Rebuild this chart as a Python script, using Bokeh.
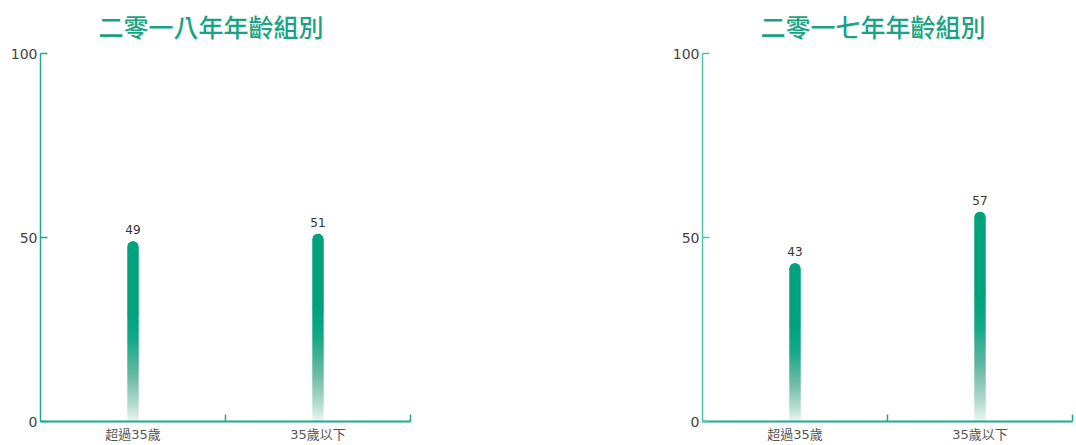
import numpy as np
from bokeh.plotting import figure
from bokeh.layouts import row
from bokeh.models import FixedTicker, Range1d, Spacer
from bokeh.core.properties import value
from bokeh.embed import file_html
from bokeh.resources import INLINE

# Data
categories = ["超過35歲", "35歲以下"]
values_2018 = [49, 51]
values_2017 = [43, 57]
title_2018 = "二零一八年年齡組別"
title_2017 = "二零一七年年齡組別"
y_ticks = [0, 50, 100]

TEAL = "#00A27E"
AXIS = "#1DAA8B"
LABEL_FONT = "'DejaVu Sans', 'Noto Sans CJK TC', sans-serif"
TITLE_FONT = "'Noto Sans CJK TC Medium', 'Noto Sans CJK TC', sans-serif"
# vertical gradient stops: (fraction from top of bar, rgb)
GRAD = [(0.0, (0, 162, 126)), (0.4, (0, 162, 126)), (0.55, (22, 168, 136)),
        (0.75, (108, 186, 164)), (0.9, (178, 218, 206)), (1.0, (238, 247, 244))]
SOLID = 0.4      # top share of each bar drawn in solid colour
FRAME_W = 370    # plot frame size in pixels
FRAME_H = 368
BAR_W = 11 / (FRAME_W / 2)   # 11 px wide bars, in category units
ROW = 100 / FRAME_H          # one pixel row, in value units


def grad_color(t):
    for (t0, c0), (t1, c1) in zip(GRAD[:-1], GRAD[1:]):
        if t0 <= t <= t1:
            f = 0 if t1 == t0 else (t - t0) / (t1 - t0)
            r, g, b = (int(round(a + (bb - a) * f)) for a, bb in zip(c0, c1))
            return "#%02x%02x%02x" % (r, g, b)
    return "#%02x%02x%02x" % GRAD[-1][1]


def make_chart(title, vals, border_right, yaxis_color):
    n = len(categories)
    p = figure(width=40 + FRAME_W + border_right, height=53 + FRAME_H + 24,
               x_range=Range1d(0, n), y_range=Range1d(0, 100),
               output_backend="svg", toolbar_location=None,
               min_border_left=40, min_border_right=border_right,
               min_border_top=53, min_border_bottom=24)
    p.outline_line_color = None
    p.grid.visible = False
    p.background_fill_color = "white"
    p.border_fill_color = "white"

    xs = [i + 0.5 for i in range(n)]
    lowers = [v * (1 - SOLID) for v in vals]

    # solid upper part of each bar with a rounded top (two passes, so its
    # edges have the same density as the overlapping slices below)
    for _ in range(2):
        p.vbar(x=xs, bottom=lowers, top=vals, width=BAR_W,
               fill_color=TEAL, line_color=None, border_radius=(6, 6, 0, 0))

    # fading lower part: one slice per pixel row, each overlapping the next
    sx, sb, st, sc = [], [], [], []
    for x, v, lower in zip(xs, vals, lowers):
        for b in np.arange(0, lower, ROW):
            sx.append(x)
            sb.append(b)
            st.append(min(b + 2 * ROW, lower + ROW))
            sc.append(grad_color(1 - (b + ROW) / v))
    p.vbar(x=sx, bottom=sb, top=st, width=BAR_W, fill_color=sc, line_color=None)

    # value labels
    p.text(x=xs, y=vals, text=[str(v) for v in vals], y_offset=-7,
           text_align="center", text_baseline="bottom",
           text_font=value(LABEL_FONT), text_font_size="12px", text_color="#333333")

    # x axis: labels at category centres, small ticks at category boundaries
    xa = p.xaxis[0]
    xa.ticker = FixedTicker(ticks=xs, minor_ticks=list(range(1, n + 1)))
    xa.major_label_overrides = {x: c for x, c in zip(xs, categories)}
    xa.major_tick_in = 0
    xa.major_tick_out = 0
    xa.minor_tick_in = 7
    xa.minor_tick_out = 0
    xa.minor_tick_line_color = AXIS
    xa.minor_tick_line_width = 1.5
    xa.axis_line_color = AXIS
    xa.axis_line_width = 2
    xa.major_label_standoff = 5
    xa.major_label_text_font = LABEL_FONT
    xa.major_label_text_font_size = "13px"
    xa.major_label_text_color = "#555555"

    ya = p.yaxis[0]
    ya.ticker = FixedTicker(ticks=y_ticks, minor_ticks=[])
    ya.major_tick_in = 7
    ya.major_tick_out = 0
    ya.major_tick_line_color = yaxis_color
    ya.major_tick_line_width = 1.5
    ya.axis_line_color = yaxis_color
    ya.axis_line_width = 1.5
    ya.major_label_standoff = 3
    ya.major_label_text_font = LABEL_FONT
    ya.major_label_text_font_size = "14px"
    ya.major_label_text_color = "#444444"

    p.title.text = title
    p.title.align = "left"
    p.title.offset = 58
    p.title.vertical_align = "top"
    p.title.text_font = TITLE_FONT
    p.title.text_font_size = "25px"
    p.title.text_font_style = "normal"
    p.title.text_color = "#18A384"
    p.title.standoff = 15
    return p


p1 = make_chart(title_2018, values_2018, 10, AXIS)
p2 = make_chart(title_2017, values_2017, 4, "#4FC3A9")

layout = row(p1, Spacer(width=242, height=445), p2)

open("out.html", "w").write(file_html(layout, INLINE))
